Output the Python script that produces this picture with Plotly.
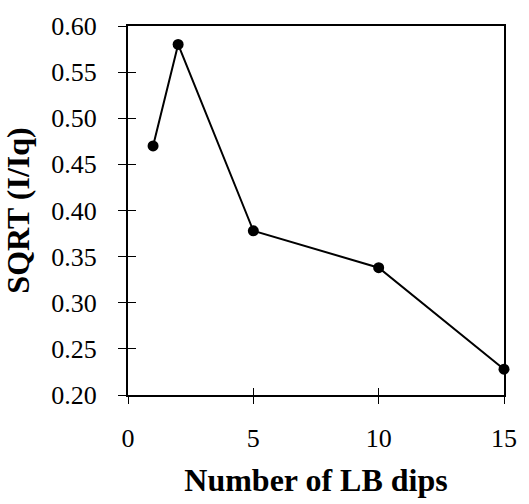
import plotly.graph_objects as go

dips = [1, 2, 5, 10, 15]
sqrt_ratio = [0.47, 0.58, 0.378, 0.338, 0.228]
x_ticks = [0, 5, 10, 15]
y_ticks = [0.20, 0.25, 0.30, 0.35, 0.40, 0.45, 0.50, 0.55, 0.60]

font_family = "Liberation Serif"

fig = go.Figure()
fig.add_trace(go.Scatter(
    x=dips, y=sqrt_ratio, mode="lines+markers",
    line=dict(color="black", width=2),
    marker=dict(color="black", size=11),
    showlegend=False, cliponaxis=False,
))
# invisible trace for overlay axes (inner halves of crossing ticks)
fig.add_trace(go.Scatter(x=[None], y=[None], xaxis="x2", yaxis="y2", showlegend=False))

common_axis = dict(showgrid=False, zeroline=False, color="black")
fig.update_layout(
    width=529, height=504,
    margin=dict(l=128, r=16, t=19, b=109),
    paper_bgcolor="white", plot_bgcolor="white",
    font=dict(family=font_family, color="black", size=26),
    xaxis=dict(
        **common_axis, range=[0, 15], tickvals=x_ticks, ticktext=[str(v) for v in x_ticks],
        ticks="outside", ticklen=7, tickwidth=1, tickcolor="black",
        showline=True, linecolor="black", linewidth=2, mirror=True,
        ticklabelstandoff=12,
        title=dict(text="<b>Number of LB dips</b>", font=dict(size=32), standoff=16),
    ),
    yaxis=dict(
        **common_axis, range=[0.20, 0.60], tickvals=y_ticks,
        ticktext=[f"{v:.2f}" for v in y_ticks],
        ticks="outside", ticklen=8, tickwidth=1, tickcolor="black",
        showline=True, linecolor="black", linewidth=2, mirror=True,
        ticklabelstandoff=16,
        title=dict(text="<b>SQRT (I/Iq)</b>", font=dict(size=32), standoff=12),
    ),
    xaxis2=dict(
        **common_axis, range=[0, 15], tickvals=x_ticks, showticklabels=False,
        ticks="inside", ticklen=7, tickwidth=1, tickcolor="black",
        overlaying="x", side="bottom", showline=False,
    ),
    yaxis2=dict(
        **common_axis, range=[0.20, 0.60], tickvals=y_ticks, showticklabels=False,
        ticks="inside", ticklen=8, tickwidth=1, tickcolor="black",
        overlaying="y", side="left", showline=False,
    ),
)

fig.write_html("out.html")
